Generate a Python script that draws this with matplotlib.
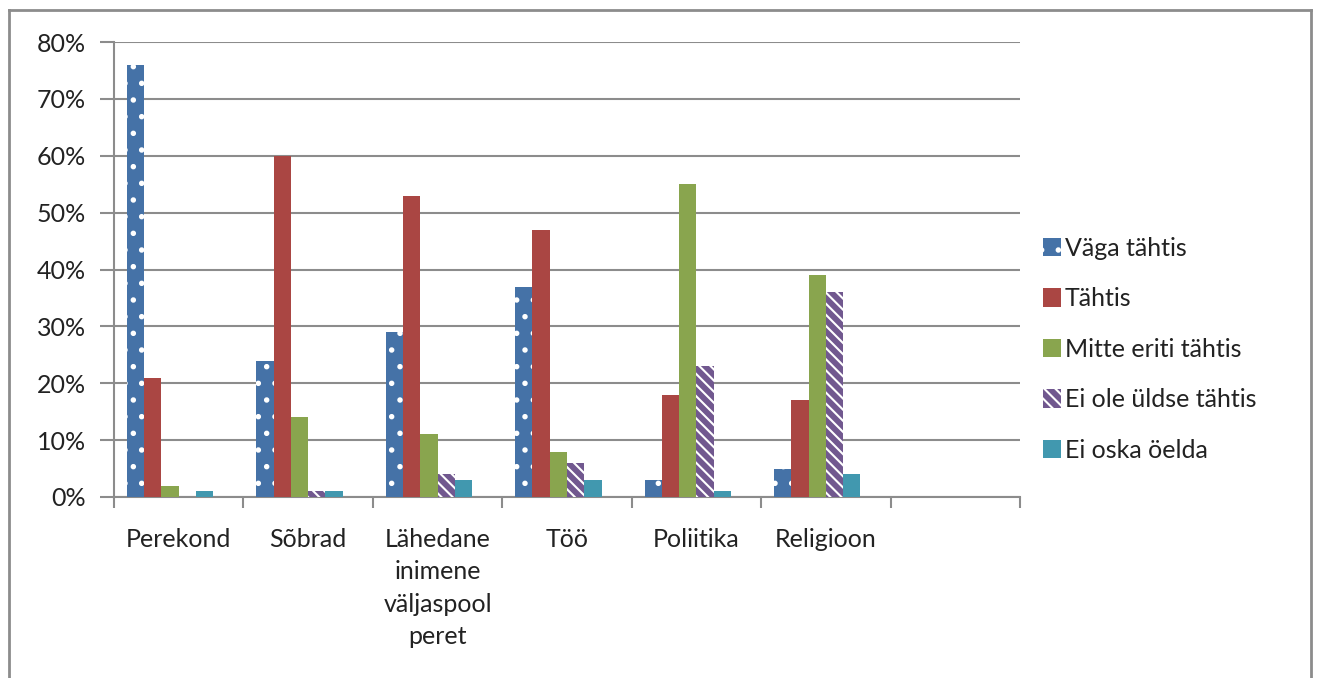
import matplotlib.pyplot as plt
from matplotlib.lines import Line2D
import numpy as np

plt.rcParams['font.family'] = ['Lato', 'DejaVu Sans']
plt.rcParams['hatch.linewidth'] = 1.5

categories = ['Perekond', 'Sõbrad', 'Lähedane\ninimene\nväljaspool\nperet', 'Töö', 'Poliitika', 'Religioon', '']
series = ['Väga tähtis', 'Tähtis', 'Mitte eriti tähtis', 'Ei ole üldse tähtis', 'Ei oska öelda']
vaga = [76, 24, 29, 37, 3, 5, 0]
tahtis = [21, 60, 53, 47, 18, 17, 0]
mitte = [2, 14, 11, 8, 55, 39, 0]
ei_ole = [0, 1, 4, 6, 23, 36, 0]
ei_oska = [1, 1, 3, 3, 1, 4, 0]
values = [vaga, tahtis, mitte, ei_ole, ei_oska]

colors = ['#4572A7', '#AA4643', '#89A54E', '#71588F', '#4198AF']
hatches = ['.', None, None, '\\\\\\', None]

fig = plt.figure(figsize=(13.18, 6.78), dpi=100)
ax = fig.add_axes([114 / 1318, 1 - 497 / 678, (1020 - 114) / 1318, (497 - 42) / 678])

# outer frame (open at bottom)
frame = dict(color='#8c8c8c', lw=2, transform=fig.transFigure, clip_on=False)
fig.add_artist(Line2D([9 / 1318, 9 / 1318], [0, 1 - 10 / 678], **frame))
fig.add_artist(Line2D([9 / 1318, 1311 / 1318], [1 - 10 / 678, 1 - 10 / 678], **frame))
fig.add_artist(Line2D([1311 / 1318, 1311 / 1318], [0, 1 - 10 / 678], **frame))

x = np.arange(len(categories))
w = 1 / 7.5
for i, (name, vals) in enumerate(zip(series, values)):
    kw = dict(color=colors[i], width=w, label=name, zorder=3)
    if hatches[i]:
        kw.update(hatch=hatches[i], edgecolor='white', linewidth=0)
    ax.bar(x + (i - 2.5) * w, vals, **kw)

ax.set_xlim(-0.5, len(categories) - 0.5)
ax.set_ylim(0, 80)
ax.set_yticks(range(0, 81, 10))
ax.set_yticklabels([f'{v}%' for v in range(0, 81, 10)], fontsize=18, color='#222222')
ax.yaxis.grid(True, color='#8c8c8c', lw=1.5, zorder=0)
ax.set_xticks(x)
ax.set_xticklabels(categories, fontsize=18, color='#222222', linespacing=1.5, va='top')
ax.set_xticks(np.arange(len(categories) + 1) - 0.5, minor=True)
ax.tick_params(axis='x', which='major', length=0, pad=22)
ax.tick_params(axis='x', which='minor', length=8, width=1.5, color='#8c8c8c')
ax.tick_params(axis='y', length=10, width=1.5, color='#8c8c8c', pad=10)
for s in ['top', 'right']:
    ax.spines[s].set_visible(False)
for s in ['left', 'bottom']:
    ax.spines[s].set_color('#8c8c8c')
    ax.spines[s].set_linewidth(1.5)

ax.legend(loc='center left', bbox_to_anchor=(1.0, 0.325), frameon=False, fontsize=18,
          handlelength=0.75, handleheight=0.75, handletextpad=0.15, labelspacing=1.1,
          labelcolor='#222222')

fig.savefig('out.png', dpi=100)
